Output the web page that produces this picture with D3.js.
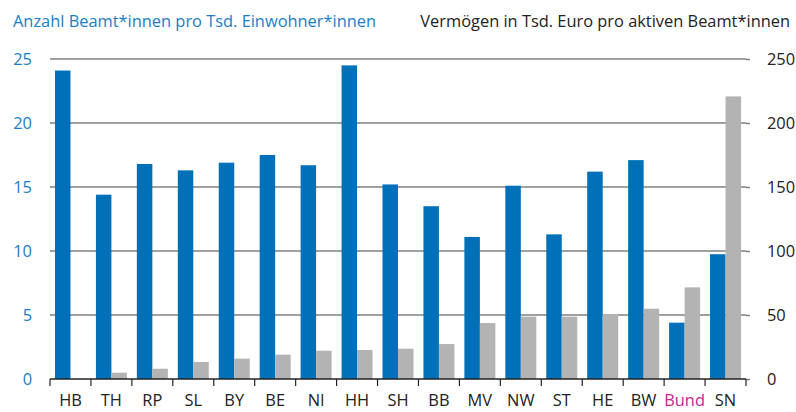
<!DOCTYPE html>
<html>
<head>
<meta charset="utf-8">
<script src="https://cdn.jsdelivr.net/npm/d3@7"></script>
<style>
	body { margin: 0; background: #fff; }
	text { font-family: "Open Sans", sans-serif; }
</style>
</head>
<body>
<script>
var laender = ["HB", "TH", "RP", "SL", "BY", "BE", "NI", "HH", "SH", "BB", "MV", "NW", "ST", "HE", "BW", "Bund", "SN"];
var beamte = [24.1, 14.4, 16.8, 16.3, 16.9, 17.5, 16.7, 24.5, 15.2, 13.5, 11.1, 15.1, 11.3, 16.2, 17.1, 4.4, 9.75];
var vermoegen = [0, 4.9, 8, 13.3, 15.9, 19, 22.1, 22.7, 23.7, 27.3, 43.7, 48.7, 48.7, 50.8, 54.9, 71.6, 220.8];
var leftTicks = [0, 5, 10, 15, 20, 25];
var rightTicks = [0, 50, 100, 150, 200, 250];

var W = 796, H = 412;
var m = { left: 50, right: 50, top: 59, bottom: 33 };
var fs = 16.4;

var svg = d3.select("body").append("svg")
	.attr("width", W)
	.attr("height", H);

var x = d3.scaleBand()
	.domain(laender)
	.range([m.left, W - m.right]);

var yl = d3.scaleLinear().domain([0, 25]).range([H - m.bottom, m.top]);
var yr = d3.scaleLinear().domain([0, 250]).range([H - m.bottom, m.top]);

// gridlines
svg.append("g")
	.selectAll("line")
	.data(leftTicks.slice(1))
	.enter().append("line")
		.attr("x1", m.left)
		.attr("x2", W - m.right)
		.attr("y1", function(d) { return yl(d); })
		.attr("y2", function(d) { return yl(d); })
		.attr("stroke", "#808080")
		.attr("stroke-width", 1.5);

var bw = 15.5;

svg.append("g")
	.selectAll("rect")
	.data(laender)
	.enter().append("rect")
		.attr("x", function(d) { return x(d) + x.bandwidth() / 2 - bw; })
		.attr("y", function(d, i) { return yl(beamte[i]); })
		.attr("width", bw)
		.attr("height", function(d, i) { return yl(0) - yl(beamte[i]); })
		.attr("fill", "#0070b8");

svg.append("g")
	.selectAll("rect")
	.data(laender)
	.enter().append("rect")
		.attr("x", function(d) { return x(d) + x.bandwidth() / 2; })
		.attr("y", function(d, i) { return yr(vermoegen[i]); })
		.attr("width", bw)
		.attr("height", function(d, i) { return yr(0) - yr(vermoegen[i]); })
		.attr("fill", "#b3b3b3");

// left axis labels
svg.append("g")
	.attr("transform", "translate(" + m.left + ",0)")
	.call(d3.axisLeft(yl).tickValues(leftTicks).tickSize(0).tickPadding(18))
	.call(function(g) { g.select(".domain").remove(); })
	.selectAll("text")
		.attr("font-size", fs)
		.attr("fill", "#1a7ec4")
		.style("font-family", "'Open Sans', sans-serif");

// right axis
svg.append("g")
	.attr("transform", "translate(" + (W - m.right) + ",0)")
	.call(d3.axisRight(yr).tickValues(rightTicks).tickSize(4).tickPadding(17))
	.call(function(g) { g.select(".domain").remove(); })
	.call(function(g) { g.selectAll("line").attr("stroke", "#808080").attr("stroke-width", 1.5); })
	.selectAll("text")
		.attr("font-size", fs)
		.attr("fill", "#222")
		.style("font-family", "'Open Sans', sans-serif");

// baseline with category ticks
var base = svg.append("g")
	.attr("transform", "translate(0," + yl(0) + ")");

base.append("line")
	.attr("x1", m.left)
	.attr("x2", W - m.right)
	.attr("stroke", "#222")
	.attr("stroke-width", 1.5);

base.selectAll("line.tk")
	.data(laender.concat(["_end"]))
	.enter().append("line")
		.attr("class", "tk")
		.attr("x1", function(d, i) { return m.left + i * x.step(); })
		.attr("x2", function(d, i) { return m.left + i * x.step(); })
		.attr("y1", 0)
		.attr("y2", 7)
		.attr("stroke", "#222")
		.attr("stroke-width", 1.2);

base.selectAll("text")
	.data(laender)
	.enter().append("text")
		.attr("x", function(d) { return x(d) + x.bandwidth() / 2; })
		.attr("y", 27)
		.attr("text-anchor", "middle")
		.attr("font-size", fs)
		.attr("fill", function(d) { return d == "Bund" ? "#c2258f" : "#222"; })
		.text(function(d) { return d; });

// titles
svg.append("text")
	.attr("x", 13)
	.attr("y", 27)
	.attr("font-size", fs)
	.attr("fill", "#1a7ec4")
	.text("Anzahl Beamt*innen pro Tsd. Einwohner*innen");

svg.append("text")
	.attr("x", 790)
	.attr("y", 27)
	.attr("text-anchor", "end")
	.attr("font-size", fs)
	.attr("fill", "#222")
	.text("Vermögen in Tsd. Euro pro aktiven Beamt*innen");
</script>
</body>
</html>
